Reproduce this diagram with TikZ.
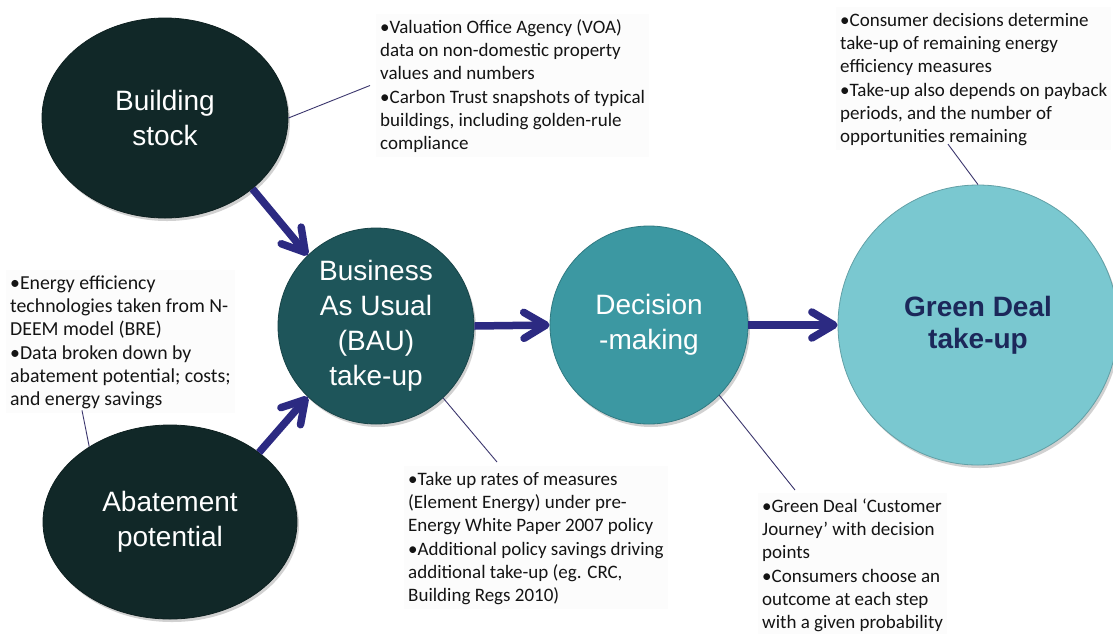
\documentclass[tikz,border=0pt]{standalone}
\usepackage{fontspec}
\setmainfont{Liberation Sans}
\newfontfamily\calib{Carlito}
\usetikzlibrary{arrows.meta,shapes.geometric,calc,shadows}
\definecolor{darkblob}{RGB}{17,40,40}
\definecolor{baucol}{RGB}{30,85,90}
\definecolor{deccol}{RGB}{60,152,162}
\definecolor{gdcol}{RGB}{122,200,208}
\definecolor{gdtext}{RGB}{28,40,90}
\definecolor{arrowblue}{RGB}{44,42,130}
\definecolor{leadcol}{RGB}{60,55,110}
\begin{document}
\begin{tikzpicture}[x=1pt,y=-1pt,
  bubble/.style={text=white, font=\fontsize{28}{35}\selectfont, align=center, inner sep=0pt,
    drop shadow={shadow xshift=2pt, shadow yshift=-3pt, opacity=0.18, fill=black}},
  darkell/.style={bubble, ellipse, fill=darkblob, draw=darkblob!80!black, line width=0.8pt, minimum width=246pt, minimum height=200pt},
  roundbub/.style={bubble, circle, line width=0.8pt},
  flow/.style={draw=arrowblue, line width=7.5pt, -{Straight Barb[length=22pt,width=26pt,round]}},
  lead/.style={draw=leadcol, line width=0.9pt},
  notebox/.style={font=\calib\fontsize{19}{23.3}\selectfont, align=left, anchor=north west, inner sep=4pt, fill=black!1.2, text=black!92}
]
\useasboundingbox (0,0) rectangle (1113,633);
\fill[white] (0,0) rectangle (1113,633);

% bubbles
\node[darkell] (bs) at (165,118) {Building\\stock};
\node[darkell, minimum width=254pt, minimum height=194pt] (ab) at (170,522) {Abatement\\potential};
\node[roundbub, fill=baucol, draw=baucol!80!black, minimum size=196pt] (bau) at (376,326) {Business\\As Usual\\(BAU)\\take-up};
\node[roundbub, fill=deccol, draw=deccol!80!black, minimum size=198pt] (dec) at (649,325) {Decision\\-making};
\node[roundbub, fill=gdcol, draw=gdcol!80!black, minimum size=280pt, text=gdtext, font=\bfseries\fontsize{28}{32}\selectfont] (gd) at (978,325) {Green Deal\\take-up};

% note boxes
\node[notebox] (tb1) at (376,14) {\rule{0pt}{15pt}•Valuation Office Agency (VOA)\\data on non-domestic property\\values and numbers\\•Carbon Trust snapshots of typical\\buildings, including golden-rule\\compliance};
\node[notebox] (tb2) at (836,7) {\rule{0pt}{15pt}•Consumer decisions determine\\take-up of remaining energy\\efficiency measures\\•Take-up also depends on payback\\periods, and the number of\\opportunities remaining};
\node[notebox, font=\calib\fontsize{19.8}{23.3}\selectfont] (tb3) at (6,270) {\rule{0pt}{15pt}•Energy efficiency\\technologies taken from N-\\DEEM model (BRE)\\•Data broken down by\\abatement potential; costs;\\and energy savings};
\node[notebox] (tb4) at (404,466) {\rule{0pt}{15pt}•Take up rates of measures\\(Element Energy) under pre-\\Energy White Paper 2007 policy\\•Additional policy savings driving\\additional take-up (eg. CRC,\\Building Regs 2010)};
\node[notebox] (tb5) at (758,493) {\rule{0pt}{15pt}•Green Deal ‘Customer\\Journey’ with decision\\points\\•Consumers choose an\\outcome at each step\\with a given probability};

% leader lines
\draw[lead] (bs.east) -- ($(tb1.west)+(-6,0)$);
\draw[lead] ($(tb2.south west)+(112,-6)$) -- (gd.north);
\draw[lead] ($(tb3.south west)+(76,-3)$) -- (ab.137);
\draw[lead] (bau.-47) -- ($(tb4.north west)+(93,-4)$);
\draw[lead] (dec.-45) -- ($(tb5.north west)+(37,-3)$);

% flow arrows
\draw[flow] (bs.-39) -- (bau.134);
\draw[flow] (ab.38) -- (bau.226);
\draw[flow] (bau.east) -- (dec.west);
\draw[flow] (dec.east) -- (gd.west);
\end{tikzpicture}
\end{document}
